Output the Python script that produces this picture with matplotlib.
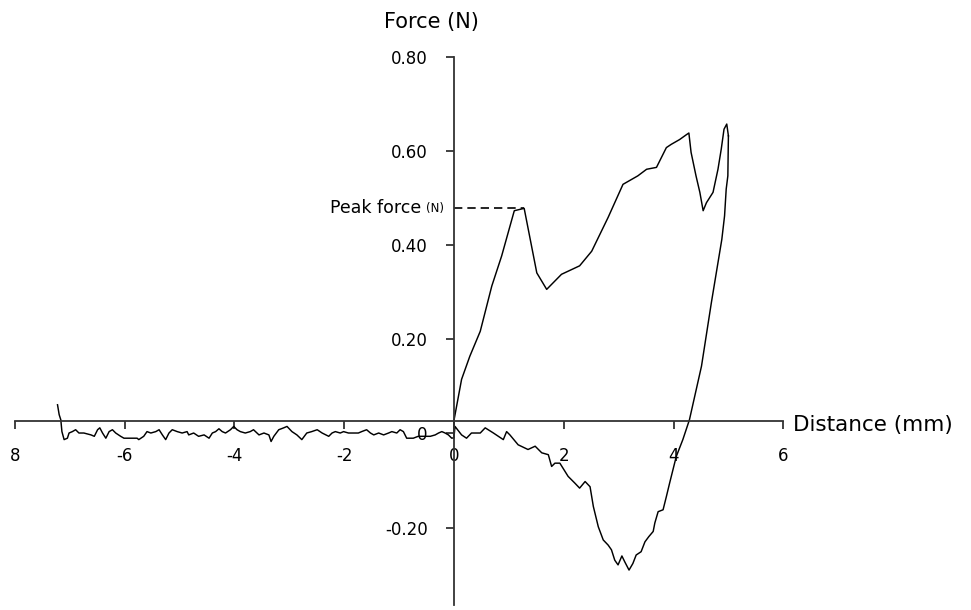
import matplotlib
matplotlib.use("Agg")
import matplotlib.pyplot as plt

# loading branch (probe pushing in)
load_x = [0.0, 0.14, 0.29, 0.48, 0.69, 0.87, 1.10, 1.28, 1.51, 1.69, 1.96, 2.29,
          2.51, 2.81, 3.08, 3.35, 3.51, 3.69, 3.78, 3.87, 3.96, 4.11, 4.23, 4.28,
          4.32, 4.41, 4.48, 4.54, 4.60, 4.72, 4.81, 4.87, 4.92, 4.97, 5.00]
load_f = [0.027, 0.115, 0.164, 0.217, 0.313, 0.377, 0.473, 0.478, 0.341, 0.306, 0.338, 0.356,
          0.387, 0.459, 0.529, 0.547, 0.561, 0.565, 0.586, 0.607, 0.614, 0.624, 0.634, 0.638,
          0.597, 0.547, 0.512, 0.473, 0.490, 0.512, 0.561, 0.604, 0.646, 0.657, 0.632]

# withdrawal branch
unload_x = [5.00, 4.99, 4.96, 4.93, 4.88, 4.69, 4.51, 4.29, 4.17, 4.05, 3.99, 3.93,
            3.87, 3.81, 3.72, 3.66, 3.63, 3.55, 3.48, 3.41, 3.32, 3.26, 3.19, 3.11,
            3.06, 2.99, 2.93, 2.87, 2.81, 2.72, 2.63, 2.54, 2.48, 2.39, 2.29, 2.20,
            2.08, 1.93, 1.84, 1.78, 1.72, 1.60, 1.48, 1.35, 1.17, 1.02, 0.96, 0.90,
            0.72, 0.57, 0.48, 0.32, 0.23, 0.14, 0.02, 0.0]
unload_f = [0.632, 0.547, 0.519, 0.462, 0.412, 0.278, 0.143, 0.029, -0.013, -0.049, -0.077, -0.105,
            -0.134, -0.162, -0.166, -0.190, -0.208, -0.219, -0.230, -0.251, -0.258, -0.276, -0.290, -0.272,
            -0.260, -0.279, -0.269, -0.247, -0.237, -0.226, -0.198, -0.155, -0.113, -0.102, -0.116, -0.105,
            -0.091, -0.063, -0.063, -0.070, -0.045, -0.041, -0.027, -0.034, -0.024, -0.003, 0.004, -0.013,
            0.001, 0.012, 0.001, 0.001, -0.010, -0.003, 0.015, -0.009]

# baseline before contact
base_x = [-7.22, -7.19, -7.16, -7.14, -7.10, -7.04, -7.01, -6.95, -6.89, -6.83, -6.74, -6.61,
          -6.55, -6.49, -6.45, -6.40, -6.34, -6.28, -6.22, -6.16, -6.07, -6.01, -5.77, -5.74,
          -5.65, -5.59, -5.52, -5.43, -5.37, -5.31, -5.25, -5.19, -5.13, -5.04, -4.95, -4.86,
          -4.83, -4.74, -4.65, -4.55, -4.46, -4.40, -4.34, -4.28, -4.22, -4.16, -4.07, -4.01,
          -3.95, -3.89, -3.80, -3.71, -3.65, -3.55, -3.46, -3.37, -3.33, -3.28, -3.19, -3.10,
          -3.04, -2.95, -2.86, -2.77, -2.68, -2.59, -2.49, -2.40, -2.28, -2.22, -2.16, -2.07,
          -2.01, -1.92, -1.74, -1.68, -1.59, -1.52, -1.46, -1.37, -1.28, -1.19, -1.13, -1.04,
          -0.98, -0.92, -0.86, -0.74, -0.65, -0.43, -0.34, -0.28, -0.22, -0.16, -0.10, -0.04,
          0.0, 0.0]
base_f = [0.061, 0.040, 0.029, 0.004, -0.013, -0.010, 0.001, 0.004, 0.008, 0.001, 0.001, -0.003,
          -0.006, 0.008, 0.012, 0.001, -0.010, 0.004, 0.008, 0.001, -0.006, -0.010, -0.010, -0.013,
          -0.006, 0.004, 0.001, 0.004, 0.008, -0.003, -0.013, 0.001, 0.008, 0.004, 0.001, 0.004,
          -0.003, 0.001, -0.006, -0.003, -0.010, 0.001, 0.004, 0.010, 0.004, 0.001, 0.008, 0.015,
          0.008, 0.004, 0.001, 0.004, 0.008, -0.003, 0.001, -0.003, -0.017, -0.006, 0.008, 0.012,
          0.015, 0.004, -0.003, -0.013, 0.001, 0.004, 0.008, 0.001, -0.006, 0.001, 0.004, 0.001,
          0.004, 0.001, 0.001, 0.004, 0.008, 0.001, -0.003, 0.001, -0.003, 0.001, 0.004, 0.001,
          0.008, 0.004, -0.010, -0.010, -0.006, -0.006, -0.003, 0.001, 0.004, 0.001, -0.003, -0.010,
          -0.009, 0.027]

xticks = [-8, -6, -4, -2, 0, 2, 4, 6]
xlabels = ["8", "-6", "-4", "-2", "0", "2", "4", "6"]
yticks = [-0.2, 0.0, 0.2, 0.4, 0.6, 0.8]
ylabels = ["-0.20", "0", "0.20", "0.40", "0.60", "0.80"]

peak_x = 1.28
peak_f = 0.478
axis_cross = 0.027

W, H = 971, 610
fig = plt.figure(figsize=(W / 100, H / 100), dpi=100)
ax = fig.add_axes([14.7 / W, 1 - 605.4 / H, 768.6 / W, (605.4 - 56.7) / H])
ax.set_xlim(-8, 6)
ax.set_ylim(-0.365, 0.80)

lc = "black"
ax.plot(base_x, base_f, color=lc, lw=1.05)
ax.plot(load_x, load_f, color=lc, lw=1.05)
ax.plot(unload_x, unload_f, color=lc, lw=1.05)

# peak force marker
ax.plot([0, peak_x], [peak_f, peak_f], color=lc, lw=1.2, ls=(0, (5, 3)))

for s in ["top", "right"]:
    ax.spines[s].set_visible(False)
ax.spines["left"].set_position(("data", 0))
ax.spines["bottom"].set_position(("data", axis_cross))
for s in ["left", "bottom"]:
    ax.spines[s].set_color("#333333")
    ax.spines[s].set_linewidth(1.3)

ax.set_xticks(xticks)
ax.set_xticklabels(xlabels)
ax.set_yticks(yticks)
ax.set_yticklabels(ylabels)
ax.tick_params(axis="both", direction="out", length=6, width=1.3, color="#333333",
               labelsize=12, pad=13)

ax.annotate("(N)", (0, peak_f), xytext=(-10, 0), textcoords="offset pixels",
            ha="right", va="center", fontsize=8.5)
ax.annotate("Peak force", (0, peak_f), xytext=(-33, 0), textcoords="offset pixels",
            ha="right", va="center", fontsize=12.5)

fig.text(431 / W, 1 - 22 / H, "Force (N)", ha="center", va="center", fontsize=15)
fig.text(793 / W, 1 - 425 / H, "Distance (mm)", ha="left", va="center", fontsize=15.5)

fig.savefig("out.png", dpi=100)
